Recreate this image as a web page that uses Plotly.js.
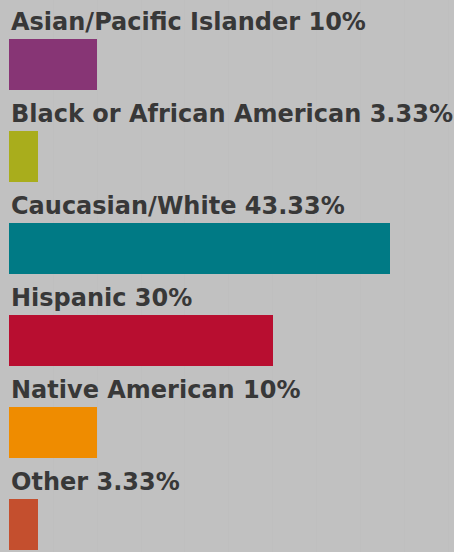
<!DOCTYPE html>
<html>
<head>
<meta charset="utf-8">
<script src="https://cdn.plot.ly/plotly-3.0.1.min.js"></script>
<style>html,body{margin:0;padding:0;background:#c1c1c1;}#chart{width:454px;height:552px;}</style>
</head>
<body>
<div id="chart"></div>
<script>
const categories = ["Asian/Pacific Islander", "Black or African American", "Caucasian/White", "Hispanic", "Native American", "Other"];
const values = [10, 3.33, 43.33, 30, 10, 3.33];
const valueLabels = ["10%", "3.33%", "43.33%", "30%", "10%", "3.33%"];
const colors = ["#873575", "#a9ad1c", "#007a85", "#b80e30", "#ef8c00", "#c44f2e"];

const trace = {
  type: "bar",
  orientation: "h",
  x: values,
  y: categories,
  width: 0.554,
  marker: {color: colors, line: {width: 0}},
  hoverinfo: "none"
};

const annotations = categories.map((c, i) => ({
  x: 0, y: c, xref: "x", yref: "y",
  xanchor: "left", yanchor: "middle",
  xshift: 0, yshift: 42,
  text: c + " " + valueLabels[i],
  showarrow: false,
  font: {family: "DejaVu Sans", size: 24, color: "#383838", weight: 700}
}));

const layout = {
  width: 454, height: 552,
  margin: {l: 9, r: 0, t: 0, b: 0},
  paper_bgcolor: "#c1c1c1",
  plot_bgcolor: "#c1c1c1",
  showlegend: false,
  bargap: 0,
  xaxis: {range: [0, 50.57], dtick: 5, showgrid: true, gridcolor: "#bfbfbf", zeroline: false, showticklabels: false, ticks: "", fixedrange: true},
  yaxis: {type: "category", categoryorder: "array", categoryarray: categories, range: [5.304, -0.696], showgrid: false, zeroline: false, showticklabels: false, ticks: "", fixedrange: true},
  annotations: annotations
};

Plotly.newPlot("chart", [trace], layout, {displayModeBar: false, staticPlot: true});
</script>
</body>
</html>
